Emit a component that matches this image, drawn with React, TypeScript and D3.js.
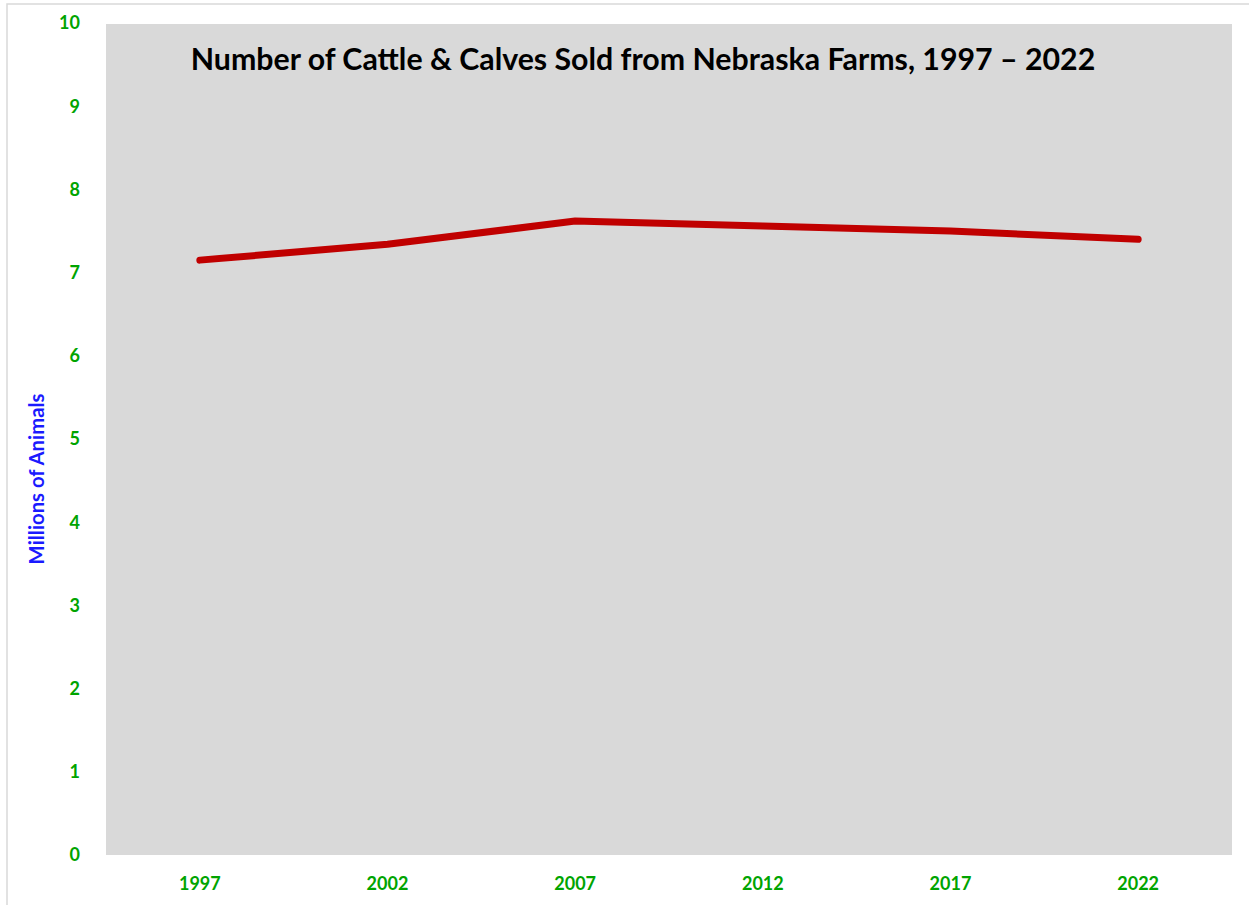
import React from "react";
import * as d3 from "d3";

const years = ["1997", "2002", "2007", "2012", "2017", "2022"];
const cattleMillions = [7.15, 7.34, 7.62, 7.56, 7.5, 7.4];
const yTicks = [0, 1, 2, 3, 4, 5, 6, 7, 8, 9, 10];
const title = "Number of Cattle & Calves Sold from Nebraska Farms, 1997 – 2022";
const yLabel = "Millions of Animals";

export default function App() {
  const W = 1249, H = 905;
  const plot = { left: 106, right: 1232, top: 24, bottom: 855 };
  const x = d3.scaleBand().domain(years).range([plot.left, plot.right]);
  const y = d3.scaleLinear().domain([0, 10]).range([plot.bottom, 23]);
  const line = d3
    .line<number>()
    .x((_, i) => (x(years[i]) as number) + x.bandwidth() / 2)
    .y((d) => y(d));
  const font = "Lato, 'Open Sans', sans-serif";
  return (
    <svg width={W} height={H} style={{ position: "absolute", left: 0, top: 0, background: "#fff" }}>
      <rect x={7} y={4} width={W + 10} height={H + 10} fill="#fff" stroke="#d9d9d9" strokeWidth={1.5} />
      <rect x={plot.left} y={plot.top} width={plot.right - plot.left} height={plot.bottom - plot.top} fill="#d9d9d9" />
      <text x={643} y={70} textAnchor="middle" fontFamily={font} fontWeight="bold" fontSize={30.3} fill="#000">
        {title}
      </text>
      {yTicks.map((t) => (
        <text key={t} x={80} y={y(t)} dy="0.35em" textAnchor="end" fontFamily={font} fontWeight="bold" fontSize={18} fill="#00a400">
          {t}
        </text>
      ))}
      {years.map((yr) => (
        <text key={yr} x={(x(yr) as number) + x.bandwidth() / 2} y={884} dy="0.35em" textAnchor="middle" fontFamily={font} fontWeight="bold" fontSize={18} fill="#00a400">
          {yr}
        </text>
      ))}
      <text transform={`translate(37,${479}) rotate(-90)`} dy="0.35em" textAnchor="middle" fontFamily={font} fontWeight="bold" fontSize={20.3} fill="#1a1aff">
        {yLabel}
      </text>
      <path d={line(cattleMillions) || ""} fill="none" stroke="#c00000" strokeWidth={7} strokeLinecap="round" strokeLinejoin="round" />
    </svg>
  );
}
